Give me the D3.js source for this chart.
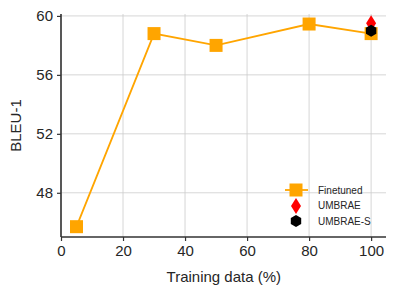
<!DOCTYPE html>
<html>
<head>
<meta charset="utf-8">
<script src="https://cdn.jsdelivr.net/npm/d3@7"></script>
<style>
  body { margin: 0; background: #fff; }
  text { font-family: "Liberation Sans", Arial, sans-serif; fill: #262626; }
</style>
</head>
<body>
<svg id="chart" width="396" height="296"></svg>
<script>
// data
const trainData = [5, 30, 50, 80, 100];
const finetuned = [45.7, 58.8, 58.0, 59.45, 58.8];
const umbrae = [{x: 100, y: 59.5}];
const umbraeS = [{x: 100, y: 59.0}];
const xTicks = [0, 20, 40, 60, 80, 100];
const yTicks = [48, 52, 56, 60];

const svg = d3.select('#chart');
const margin = {left: 61, right: 10, top: 14, bottom: 59};
const w = 396 - margin.left - margin.right;
const h = 296 - margin.top - margin.bottom;

const x = d3.scaleLinear().domain([0, 104.8]).range([0, w]);
const y = d3.scaleLinear().domain([45, 60.13]).range([h, 0]);

const g = svg.append('g').attr('transform', `translate(${margin.left},${margin.top})`);

// grid
g.selectAll('.gx').data(xTicks).enter().append('line')
    .attr('x1', d => x(d)).attr('x2', d => x(d))
    .attr('y1', 0).attr('y2', h)
    .attr('stroke', '#cccccc').attr('stroke-width', 0.8);
g.selectAll('.gy').data(yTicks).enter().append('line')
    .attr('x1', 0).attr('x2', w)
    .attr('y1', d => y(d)).attr('y2', d => y(d))
    .attr('stroke', '#cccccc').attr('stroke-width', 0.8);

// axes
let xAxis = g.append('g').attr('transform', `translate(0,${h})`)
    .call(d3.axisBottom(x).tickValues(xTicks).tickSize(4).tickPadding(4));
let yAxis = g.append('g')
    .call(d3.axisLeft(y).tickValues(yTicks).tickSize(4).tickPadding(4));
[xAxis, yAxis].forEach(a => {
    a.select('.domain').attr('stroke', '#333').attr('stroke-width', 1.6);
    a.selectAll('.tick line').attr('stroke', '#333').attr('stroke-width', 1.2);
    a.selectAll('.tick text').style('font-size', '15px').attr('fill', '#262626')
        .style('font-family', '"Liberation Sans", Arial, sans-serif');
});
xAxis.select('.domain').attr('d', `M0,0H${w}`);
yAxis.select('.domain').attr('d', `M0,${h}V0`);

// axis labels
svg.append('text').attr('x', margin.left + x(52.5)).attr('y', 282)
    .attr('text-anchor', 'middle').style('font-size', '15px').text('Training data (%)');
svg.append('text').attr('transform', `translate(21,${margin.top + h / 2}) rotate(-90)`)
    .attr('text-anchor', 'middle').style('font-size', '15px').text('BLEU-1');

// finetuned line
const pts = trainData.map((d, i) => ({x: d, y: finetuned[i]}));
g.append('path').datum(pts)
    .attr('fill', 'none').attr('stroke', '#ffa500').attr('stroke-width', 1.8)
    .attr('d', d3.line().x(d => x(d.x)).y(d => y(d.y)));
g.selectAll('.sq').data(pts).enter().append('rect')
    .attr('x', d => x(d.x) - 6.5).attr('y', d => y(d.y) - 6.5)
    .attr('width', 13).attr('height', 13).attr('fill', '#ffa500');

const diamond = 'M0,-8L5,0L0,8L-5,0Z';
const hexagon = d3.range(6).map(i => {
    let a = Math.PI / 3 * i - Math.PI / 2;
    return [6 * Math.cos(a), 6 * Math.sin(a)];
});
const hexPath = 'M' + hexagon.map(p => p.join(',')).join('L') + 'Z';

g.selectAll('.um').data(umbrae).enter().append('path')
    .attr('d', diamond).attr('fill', '#ff0000')
    .attr('transform', d => `translate(${x(d.x)},${y(d.y)})`);
g.selectAll('.ums').data(umbraeS).enter().append('path')
    .attr('d', hexPath).attr('fill', '#000')
    .attr('transform', d => `translate(${x(d.x)},${y(d.y)})`);

// legend
const leg = svg.append('g').attr('transform', 'translate(296,190)');
leg.append('line').attr('x1', -11).attr('x2', 12).attr('stroke', '#ffa500').attr('stroke-width', 1.8);
leg.append('rect').attr('x', -6.5).attr('y', -6.5).attr('width', 13).attr('height', 13).attr('fill', '#ffa500');
leg.append('path').attr('d', diamond).attr('fill', '#ff0000').attr('transform', 'translate(0,16)');
leg.append('path').attr('d', hexPath).attr('fill', '#000').attr('transform', 'translate(0,31)');
const names = ['Finetuned', 'UMBRAE', 'UMBRAE-S'];
leg.selectAll('.lt').data(names).enter().append('text')
    .attr('x', 22).attr('y', (d, i) => i * 15.5 + 3.5)
    .style('font-size', '10px').text(d => d);
</script>
</body>
</html>
